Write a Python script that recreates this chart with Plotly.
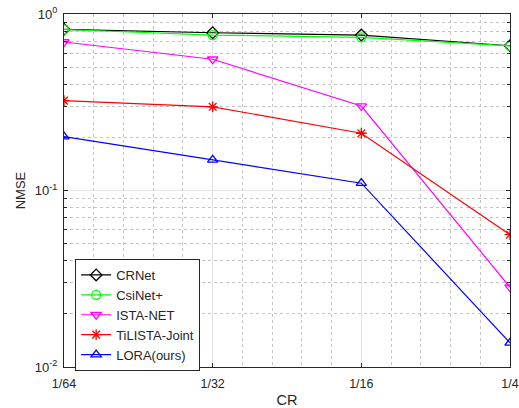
import plotly.graph_objects as go

cr_labels = ["1/64", "1/32", "1/16", "1/4"]
cr_pos = [1, 2, 3, 4]

crnet = [0.819, 0.783, 0.760, 0.661]
csinet_plus = [0.817, 0.760, 0.738, 0.659]
ista_net = [0.694, 0.554, 0.301, 0.0283]
tilista_joint = [0.323, 0.298, 0.211, 0.0562]
lora_ours = [0.202, 0.149, 0.110, 0.0137]

series = [
    ("CRNet", crnet, "#000000", "diamond-open"),
    ("CsiNet+", csinet_plus, "#00ff00", "circle-open"),
    ("ISTA-NET", ista_net, "#ff00ff", "triangle-down-open"),
    ("TiLISTA-Joint", tilista_joint, "#ff0000", "asterisk-open"),
    ("LORA(ours)", lora_ours, "#0000ff", "triangle-up-open"),
]

fig = go.Figure()
for name, vals, color, sym in series:
    fig.add_trace(go.Scatter(
        x=cr_pos, y=vals, name=name, mode="lines+markers",
        line=dict(color=color, width=1.2),
        marker=dict(symbol=sym, size=9, color=color, line=dict(color=color, width=1.3)),
    ))

axcol = "#262626"
minor_y = [m * 10 ** e for e in (-2, -1) for m in range(2, 10)]

fig.update_layout(
    width=519, height=408,
    margin=dict(l=64, r=9, t=14, b=41),
    paper_bgcolor="white", plot_bgcolor="white",
    font=dict(family="Liberation Sans, Arial, sans-serif", size=13, color=axcol),
    showlegend=True,
    legend=dict(
        x=0.025, y=0.306, xanchor="left", yanchor="top",
        bgcolor="white", bordercolor=axcol, borderwidth=1,
        font=dict(size=13, color=axcol), tracegroupgap=0,
    ),
    xaxis=dict(
        range=[1, 4], tickvals=cr_pos, ticktext=cr_labels, automargin=False,
        showline=True, mirror="allticks", linecolor=axcol, linewidth=1,
        ticks="inside", ticklen=4, tickcolor=axcol, ticklabelstandoff=5,
        showgrid=True, gridcolor="#e3e3e3", gridwidth=1,
        zeroline=False,
        minor=dict(dtick=0.2, showgrid=True, gridcolor="#c4c4c4", griddash="dot", ticks=""),
        title=dict(text="CR", font=dict(size=14.5, color=axcol), standoff=4),
        tickfont=dict(size=12.5, color=axcol),
    ),
    yaxis=dict(
        type="log", range=[-2, 0], automargin=False,
        tickvals=[0.01, 0.1, 1],
        ticktext=["10<sup>-2</sup>", "10<sup>-1</sup>", "10<sup>0</sup>"],
        showline=True, mirror="allticks", linecolor=axcol, linewidth=1,
        ticks="inside", ticklen=4, tickcolor=axcol, ticklabelstandoff=3,
        showgrid=True, gridcolor="#e3e3e3", gridwidth=1,
        zeroline=False,
        minor=dict(tickvals=minor_y, showgrid=True, gridcolor="#c4c4c4", griddash="dot",
                   ticks="inside", ticklen=3, tickcolor=axcol),
        title=dict(text="NMSE", font=dict(size=13, color=axcol), standoff=6),
        tickfont=dict(size=13, color=axcol),
    ),
)

fig.write_html("out.html")
